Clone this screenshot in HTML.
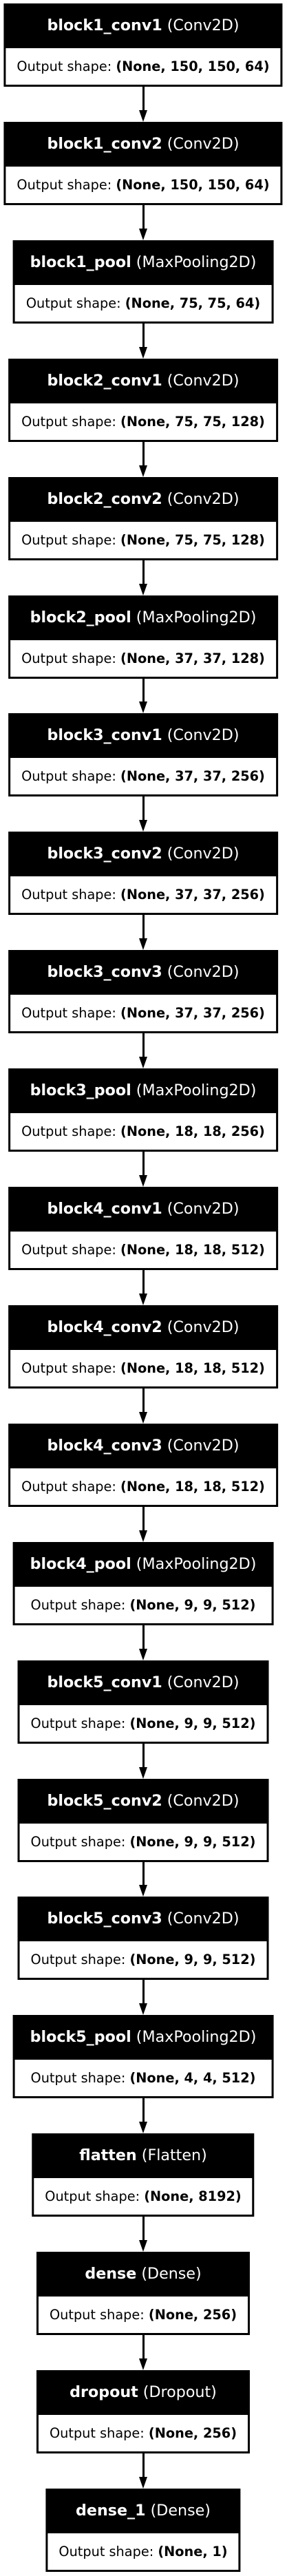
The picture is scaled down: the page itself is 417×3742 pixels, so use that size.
<!DOCTYPE html>
<html><head><meta charset="utf-8"><style>
body{margin:0;background:#fff;width:417px;height:3742px;position:relative;overflow:hidden;font-family:"DejaVu Sans",sans-serif;font-size:19.3px}
.b{position:absolute;left:208px;transform:translateX(-50%);background:#000;padding:0 3px 3px 3px;white-space:nowrap}
.h{height:65px;line-height:65px;color:#fff;text-align:center;padding:0 22px;font-size:22.2px}
.o{height:53px;line-height:53px;background:#fff;color:#000;text-align:center;padding:0 16px}
b{font-weight:bold}
.a{position:absolute;left:206.5px;width:3px;background:#000}
.t{position:absolute;left:201.5px;width:0;height:0;border-left:6.5px solid transparent;border-right:6.5px solid transparent;border-top:17px solid #000}
</style></head><body>
<div class="b" style="top:5px"><div class="h"><b>block1_conv1</b> (Conv2D)</div><div class="o">Output shape: <b>(None, 150, 150, 64)</b></div></div>
<div class="b" style="top:177px"><div class="h"><b>block1_conv2</b> (Conv2D)</div><div class="o">Output shape: <b>(None, 150, 150, 64)</b></div></div>
<div class="b" style="top:349px"><div class="h"><b>block1_pool</b> (MaxPooling2D)</div><div class="o">Output shape: <b>(None, 75, 75, 64)</b></div></div>
<div class="b" style="top:521px"><div class="h"><b>block2_conv1</b> (Conv2D)</div><div class="o">Output shape: <b>(None, 75, 75, 128)</b></div></div>
<div class="b" style="top:693px"><div class="h"><b>block2_conv2</b> (Conv2D)</div><div class="o">Output shape: <b>(None, 75, 75, 128)</b></div></div>
<div class="b" style="top:865px"><div class="h"><b>block2_pool</b> (MaxPooling2D)</div><div class="o">Output shape: <b>(None, 37, 37, 128)</b></div></div>
<div class="b" style="top:1036px"><div class="h"><b>block3_conv1</b> (Conv2D)</div><div class="o">Output shape: <b>(None, 37, 37, 256)</b></div></div>
<div class="b" style="top:1208px"><div class="h"><b>block3_conv2</b> (Conv2D)</div><div class="o">Output shape: <b>(None, 37, 37, 256)</b></div></div>
<div class="b" style="top:1380px"><div class="h"><b>block3_conv3</b> (Conv2D)</div><div class="o">Output shape: <b>(None, 37, 37, 256)</b></div></div>
<div class="b" style="top:1552px"><div class="h"><b>block3_pool</b> (MaxPooling2D)</div><div class="o">Output shape: <b>(None, 18, 18, 256)</b></div></div>
<div class="b" style="top:1724px"><div class="h"><b>block4_conv1</b> (Conv2D)</div><div class="o">Output shape: <b>(None, 18, 18, 512)</b></div></div>
<div class="b" style="top:1896px"><div class="h"><b>block4_conv2</b> (Conv2D)</div><div class="o">Output shape: <b>(None, 18, 18, 512)</b></div></div>
<div class="b" style="top:2068px"><div class="h"><b>block4_conv3</b> (Conv2D)</div><div class="o">Output shape: <b>(None, 18, 18, 512)</b></div></div>
<div class="b" style="top:2240px"><div class="h"><b>block4_pool</b> (MaxPooling2D)</div><div class="o">Output shape: <b>(None, 9, 9, 512)</b></div></div>
<div class="b" style="top:2412px"><div class="h"><b>block5_conv1</b> (Conv2D)</div><div class="o">Output shape: <b>(None, 9, 9, 512)</b></div></div>
<div class="b" style="top:2584px"><div class="h"><b>block5_conv2</b> (Conv2D)</div><div class="o">Output shape: <b>(None, 9, 9, 512)</b></div></div>
<div class="b" style="top:2755px"><div class="h"><b>block5_conv3</b> (Conv2D)</div><div class="o">Output shape: <b>(None, 9, 9, 512)</b></div></div>
<div class="b" style="top:2927px"><div class="h"><b>block5_pool</b> (MaxPooling2D)</div><div class="o">Output shape: <b>(None, 4, 4, 512)</b></div></div>
<div class="b" style="top:3099px"><div class="h"><b>flatten</b> (Flatten)</div><div class="o">Output shape: <b>(None, 8192)</b></div></div>
<div class="b" style="top:3271px"><div class="h"><b>dense</b> (Dense)</div><div class="o">Output shape: <b>(None, 256)</b></div></div>
<div class="b" style="top:3443px"><div class="h"><b>dropout</b> (Dropout)</div><div class="o">Output shape: <b>(None, 256)</b></div></div>
<div class="b" style="top:3615px"><div class="h"><b>dense_1</b> (Dense)</div><div class="o">Output shape: <b>(None, 1)</b></div></div>

<div class="a" style="top:126px;height:35px"></div><div class="t" style="top:160px"></div>
<div class="a" style="top:298px;height:35px"></div><div class="t" style="top:332px"></div>
<div class="a" style="top:470px;height:35px"></div><div class="t" style="top:504px"></div>
<div class="a" style="top:642px;height:35px"></div><div class="t" style="top:676px"></div>
<div class="a" style="top:814px;height:35px"></div><div class="t" style="top:848px"></div>
<div class="a" style="top:986px;height:34px"></div><div class="t" style="top:1019px"></div>
<div class="a" style="top:1157px;height:35px"></div><div class="t" style="top:1191px"></div>
<div class="a" style="top:1329px;height:35px"></div><div class="t" style="top:1363px"></div>
<div class="a" style="top:1501px;height:35px"></div><div class="t" style="top:1535px"></div>
<div class="a" style="top:1673px;height:35px"></div><div class="t" style="top:1707px"></div>
<div class="a" style="top:1845px;height:35px"></div><div class="t" style="top:1879px"></div>
<div class="a" style="top:2017px;height:35px"></div><div class="t" style="top:2051px"></div>
<div class="a" style="top:2189px;height:35px"></div><div class="t" style="top:2223px"></div>
<div class="a" style="top:2361px;height:35px"></div><div class="t" style="top:2395px"></div>
<div class="a" style="top:2533px;height:35px"></div><div class="t" style="top:2567px"></div>
<div class="a" style="top:2705px;height:34px"></div><div class="t" style="top:2738px"></div>
<div class="a" style="top:2876px;height:35px"></div><div class="t" style="top:2910px"></div>
<div class="a" style="top:3048px;height:35px"></div><div class="t" style="top:3082px"></div>
<div class="a" style="top:3220px;height:35px"></div><div class="t" style="top:3254px"></div>
<div class="a" style="top:3392px;height:35px"></div><div class="t" style="top:3426px"></div>
<div class="a" style="top:3564px;height:35px"></div><div class="t" style="top:3598px"></div>
</body></html>
